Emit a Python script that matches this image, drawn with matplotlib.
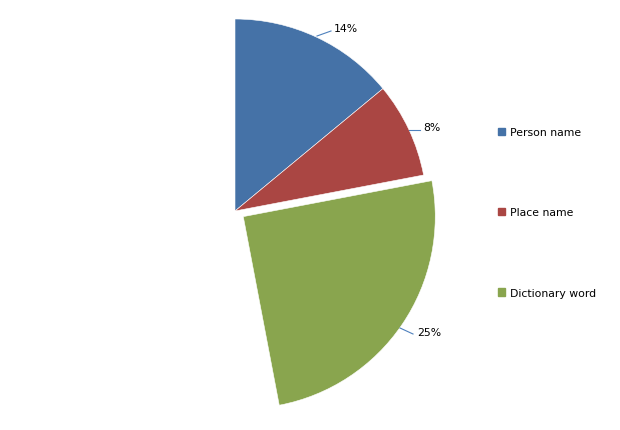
import matplotlib.pyplot as plt
from matplotlib.patches import Rectangle

# data
categories = ["Person name", "Place name", "Dictionary word"]
shares = [0.14, 0.08, 0.25]
pct_labels = ["14%", "8%", "25%"]
colors = ["#4572A7", "#AA4643", "#89A54E"]
explode = [0, 0, 10]  # matplotlib explode is in data units (pixels here)

fig = plt.figure(figsize=(6.2, 4.31), dpi=100)
ax = fig.add_axes([0, 0, 1, 1])

# pixel-like coordinates, y upward
cx, cy, r = 235, 431 - 212, 192
wedges, _ = ax.pie(shares, colors=colors, explode=explode, normalize=False,
                   startangle=90, counterclock=False, radius=r, center=(cx, cy),
                   wedgeprops=dict(edgecolor="white", linewidth=0.4))
ax.set_xlim(0, 620)
ax.set_ylim(0, 431)
ax.set_aspect("auto")
ax.axis("off")

# data labels with short leader lines (pixel positions: start, elbow, text)
label_pos = [((317, 37), (331, 32), (334, 29)),
             ((409, 131), (420, 131), (423, 128)),
             ((400, 329), (413, 335), (417, 333))]
for lab, (p0, p1, pt) in zip(pct_labels, label_pos):
    ax.plot([p0[0], p1[0]], [431 - p0[1], 431 - p1[1]], color="#4F81BD", lw=0.8)
    ax.text(pt[0], 431 - pt[1], lab, fontsize=7.8, ha="left", va="center", color="black")

handles = [Rectangle((0, 0), 1, 1, color=c) for c in colors]
leg = ax.legend(handles, categories, loc="upper left", bbox_to_anchor=(498 / 620, 1 - 128 / 431),
                frameon=False, fontsize=7.8, handlelength=0.65, handleheight=0.65,
                handletextpad=0.45, labelspacing=6.5, borderpad=0, borderaxespad=0)

fig.savefig("out.png", dpi=100)
